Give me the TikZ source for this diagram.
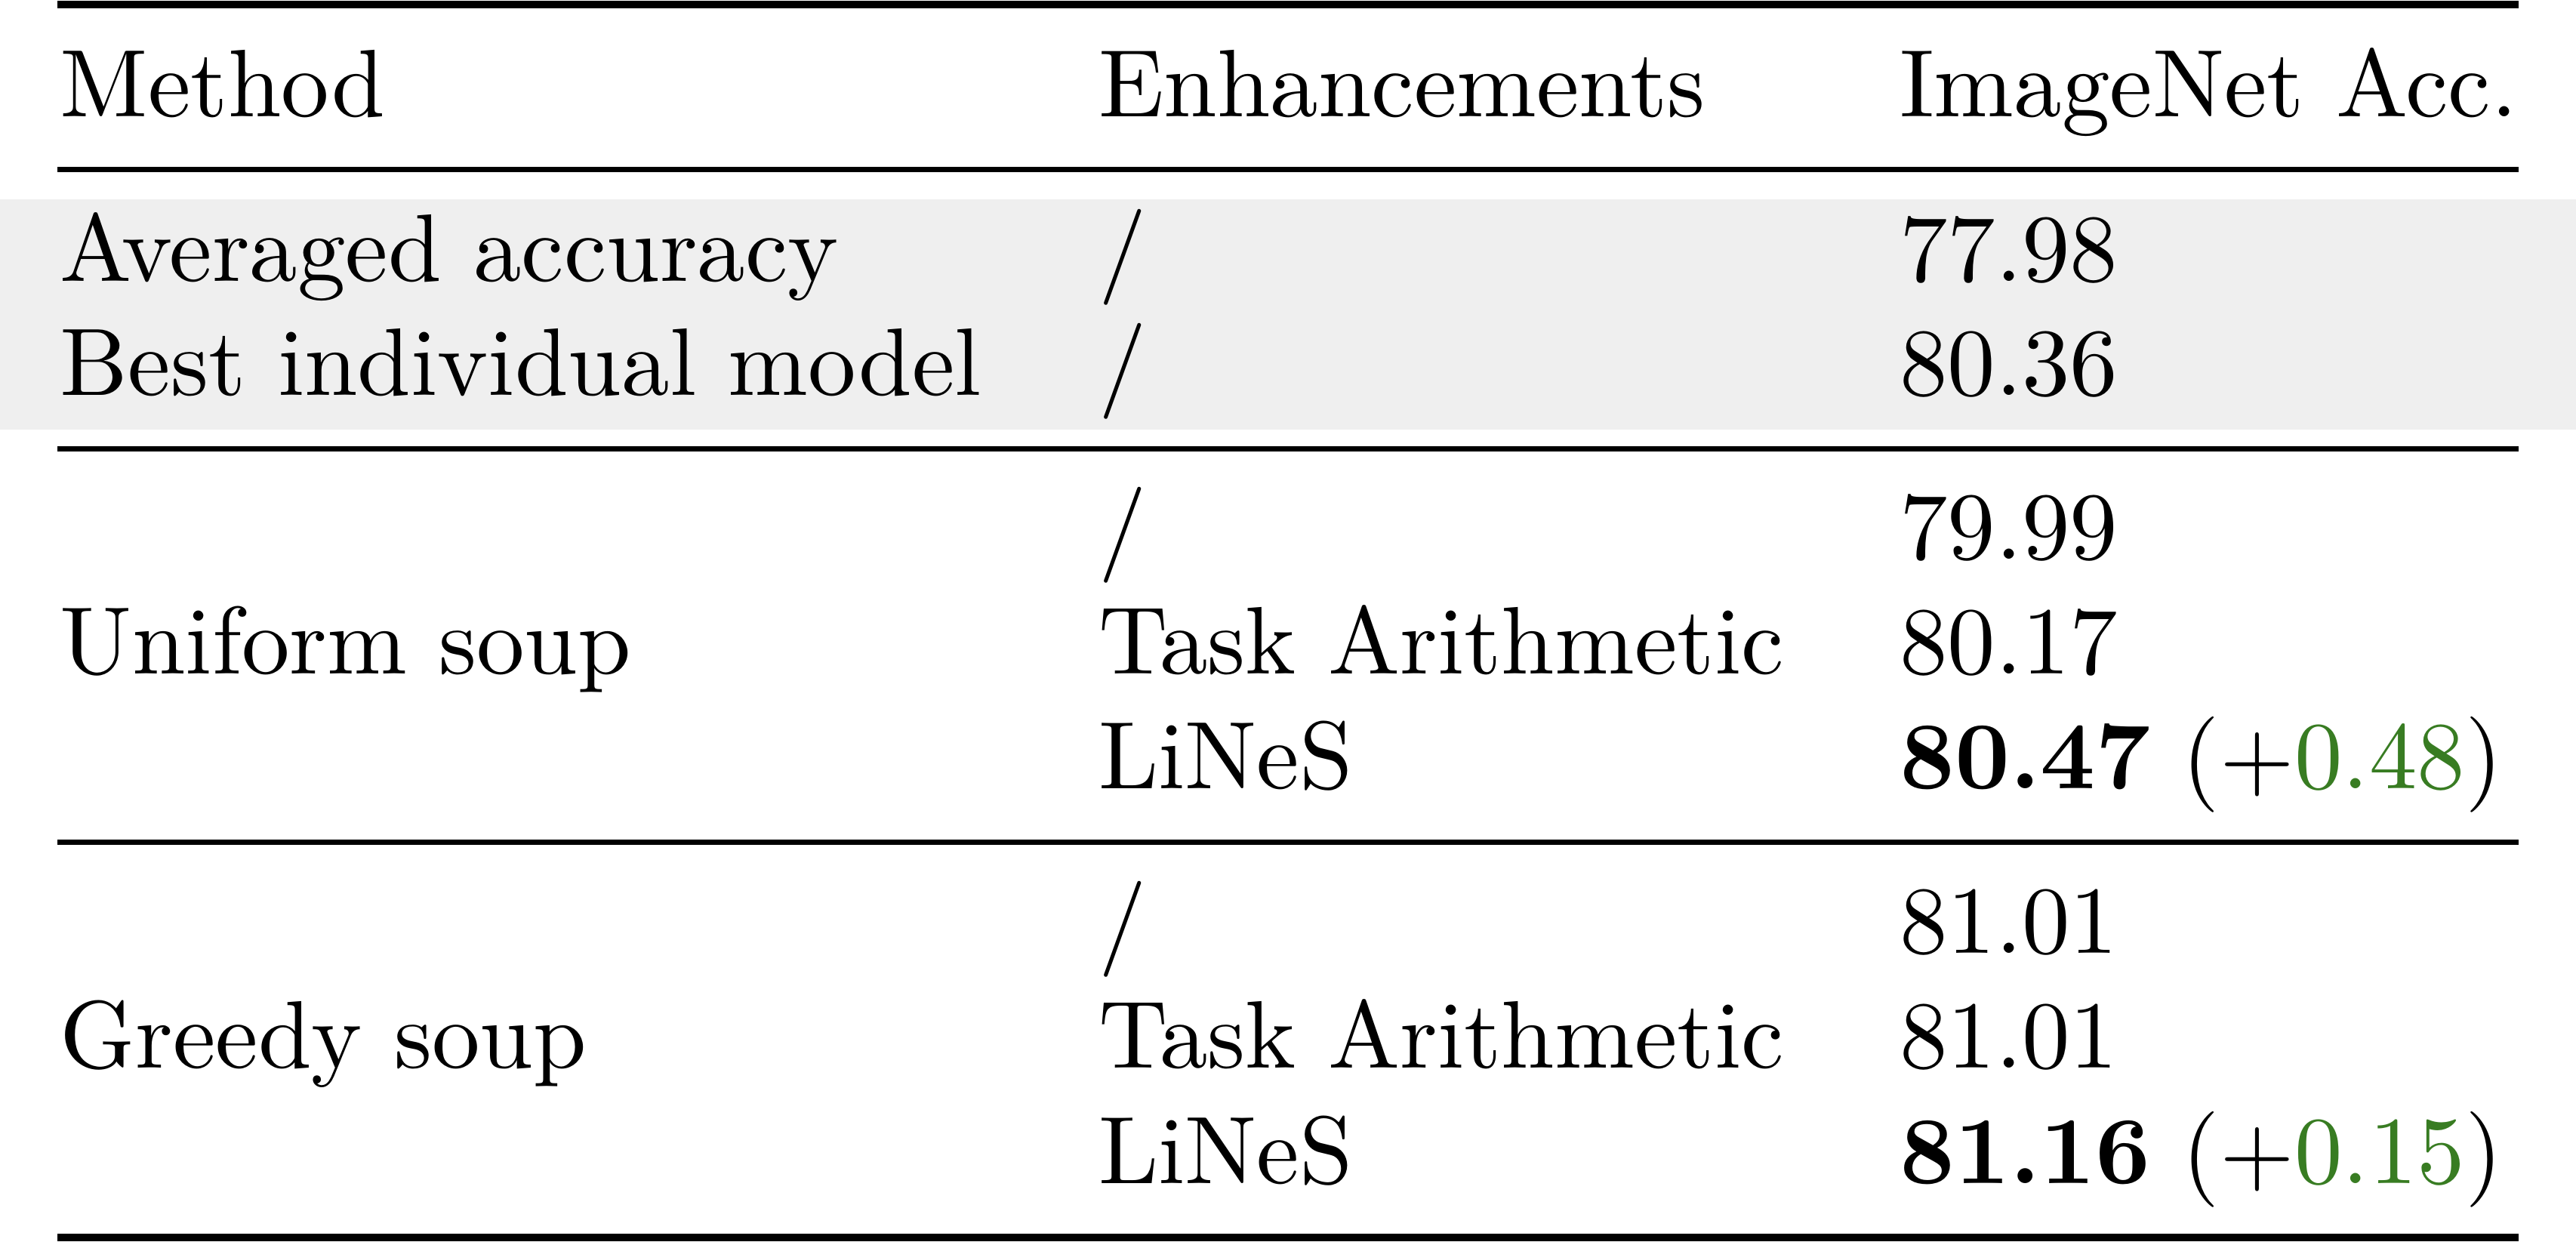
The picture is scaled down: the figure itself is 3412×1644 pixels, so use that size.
\documentclass[tikz,border=0pt]{standalone}
\usepackage{xcolor}
\definecolor{gaingreen}{RGB}{56,124,34}
\definecolor{bandgrey}{RGB}{239,239,239}
\tikzset{
	cell/.style={anchor=base west, inner sep=0pt, outer sep=0pt},
	heavyrule/.style={line width=0.8pt},
	lightrule/.style={line width=0.5pt}
}
\newcommand{\gain}[1]{(+\textcolor{gaingreen}{#1})}
\begin{document}
\begin{tikzpicture}[x=0.07874pt, y=-0.07874pt]
	\useasboundingbox (0,0) rectangle (3412,1644);
	\fill[bandgrey] (0,264) rectangle (3412,569);

	\draw[heavyrule] (76,6) -- (3336,6);
	\draw[lightrule] (76,224.5) -- (3336,224.5);
	\draw[lightrule] (76,594.5) -- (3336,594.5);
	\draw[lightrule] (76,1115.5) -- (3336,1115.5);
	\draw[heavyrule] (76,1639) -- (3336,1639);

	\node[cell] (hmethod) at (80,154) {Method};
	\node[cell] (henh) at (1455,154) {Enhancements};
	\node[cell] (hacc) at (2516,154) {ImageNet Acc.};

	\node[cell] (avgname) at (80,372) {Averaged accuracy};
	\node[cell] (avgenh) at (1455,372) {/};
	\node[cell] (avgacc) at (2516,372) {77.98};
	\node[cell] (bestname) at (80,523) {Best individual model};
	\node[cell] (bestenh) at (1455,523) {/};
	\node[cell] (bestacc) at (2516,523) {80.36};

	\node[cell] (uniname) at (80,892) {Uniform soup};
	\node[cell] (unienha) at (1455,740) {/};
	\node[cell] (uniacca) at (2516,740) {79.99};
	\node[cell] (unienhb) at (1455,892) {Task Arithmetic};
	\node[cell] (uniaccb) at (2516,892) {80.17};
	\node[cell] (unienhc) at (1455,1044) {LiNeS};
	\node[cell] (uniaccc) at (2516,1044) {\textbf{80.47} \gain{0.48}};

	\node[cell] (grename) at (80,1414) {Greedy soup};
	\node[cell] (greenha) at (1455,1262) {/};
	\node[cell] (greacca) at (2516,1262) {81.01};
	\node[cell] (greenhb) at (1455,1414) {Task Arithmetic};
	\node[cell] (greaccb) at (2516,1414) {81.01};
	\node[cell] (greenhc) at (1455,1567) {LiNeS};
	\node[cell] (greaccc) at (2516,1567) {\textbf{81.16} \gain{0.15}};
\end{tikzpicture}
\end{document}
